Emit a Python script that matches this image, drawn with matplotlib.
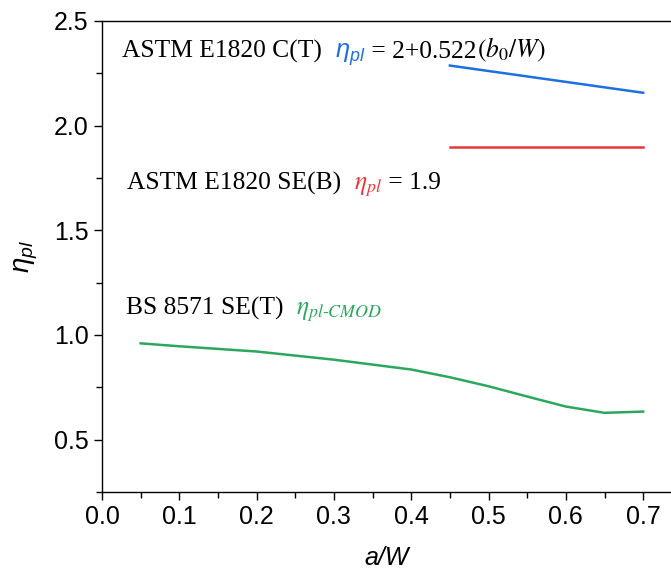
import numpy as np
import matplotlib

matplotlib.use("Agg")
import matplotlib.pyplot as plt
from matplotlib.ticker import MultipleLocator

# eta_pl against crack length ratio for three standards
ct_aw = [0.45, 0.50, 0.55, 0.60, 0.65, 0.70]
ct_eta = [2.287, 2.261, 2.235, 2.209, 2.183, 2.157]   # 2 + 0.522 (1 - a/W)

seb_aw = [0.45, 0.70]
seb_eta = [1.9, 1.9]

set_aw = [0.05, 0.10, 0.20, 0.30, 0.40, 0.45, 0.50, 0.55, 0.60, 0.65, 0.70]
set_eta = [0.960, 0.946, 0.921, 0.882, 0.835, 0.798, 0.755, 0.706, 0.658, 0.628, 0.634]

BLUE = "#1E6FE0"
RED = "#E8363A"
GREEN = "#2BA85E"

plt.rcParams["mathtext.fontset"] = "custom"
plt.rcParams["mathtext.rm"] = "Liberation Sans"
plt.rcParams["mathtext.it"] = "Liberation Sans:italic"
plt.rcParams["font.family"] = "Liberation Sans"

fig = plt.figure(figsize=(6.71, 5.73), dpi=100)
ax = fig.add_axes([0.152, 0.1414, 0.848, 0.822])

ax.plot(ct_aw, ct_eta, color=BLUE, lw=1.8)
ax.plot(seb_aw, seb_eta, color=RED, lw=1.8)
ax.plot(set_aw, set_eta, color=GREEN, lw=1.8)

ax.set_xlim(0, 0.736)
ax.set_ylim(0.25, 2.5)
ax.xaxis.set_minor_locator(MultipleLocator(0.05))
ax.yaxis.set_major_locator(MultipleLocator(0.5))
ax.yaxis.set_minor_locator(MultipleLocator(0.25))
ax.tick_params(which="both", direction="out", width=1.0, labelsize=18)
ax.tick_params(which="major", length=6)
ax.tick_params(which="minor", length=4)
xt = np.arange(0, 0.71, 0.1)
ax.set_xticks(xt)
ax.set_xticklabels(["{:.1f}".format(v) for v in xt])
ax.spines["right"].set_visible(False)
for side in ("left", "bottom", "top"):
    ax.spines[side].set_linewidth(1.0)

ax.set_xlabel("a/W", fontsize=18, fontstyle="italic", labelpad=12)
ax.set_ylabel(r"$\eta_{pl}$", fontsize=20, labelpad=10)

SERIF = "Liberation Serif"
FS = 18.4
renderer = fig.canvas.get_renderer()


def label_row(x, y, parts):
    # lay coloured text pieces side by side on one shared baseline
    for text, color, mfam in parts:
        t = ax.text(x, y, text, color=color, fontsize=FS, family=SERIF,
                    math_fontfamily=mfam, va="baseline", ha="left")
        bb = t.get_window_extent(renderer)
        x = ax.transData.inverted().transform((bb.x1, bb.y0))[0]


label_row(0.026, 2.325, [
    ("ASTM E1820 C(T)  ", "black", "stix"),
    (r"$\eta_{pl}$", BLUE, "custom"),
    (" = 2+0.522", "black", "stix"),
    (r"$(b_0/W)$", "black", "stix"),
])
label_row(0.032, 1.696, [
    ("ASTM E1820 SE(B)  ", "black", "stix"),
    (r"$\eta_{pl}$", RED, "stix"),
    (" = 1.9", "black", "stix"),
])
label_row(0.031, 1.097, [
    ("BS 8571 SE(T)  ", "black", "stix"),
    (r"$\eta_{pl\text{-}CMOD}$", GREEN, "stix"),
])

fig.savefig("out.png", dpi=100)
plt.close(fig)
